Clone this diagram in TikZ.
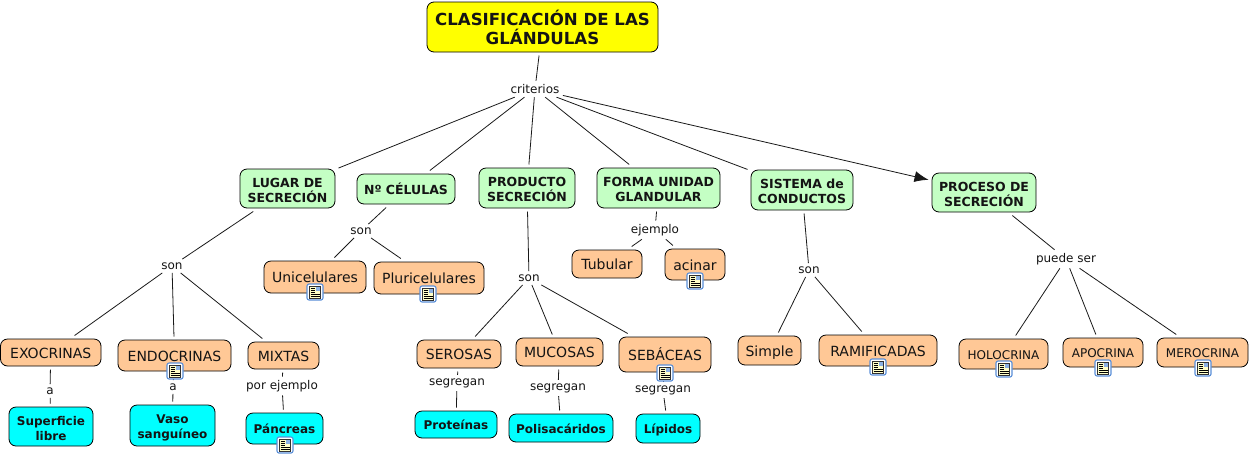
\documentclass[tikz,border=0pt]{standalone}
\usepackage{fontspec}
\setmainfont{DejaVu Sans}
\usetikzlibrary{arrows.meta}
\definecolor{orangebox}{HTML}{FFC896}
\definecolor{greenbox}{HTML}{C4FFC4}
\definecolor{cyanbox}{HTML}{00FFFF}
\definecolor{yellowbox}{HTML}{FFFF00}
\definecolor{iconblue}{HTML}{5A8FD8}
\definecolor{iconpaper}{HTML}{FFFFC8}
\newcommand{\ml}{\rule{0pt}{1.15em}}
\tikzset{
  cbox/.style={draw=black,line width=0.8pt,rounded corners=7pt,inner sep=0pt,outer sep=3.5pt,align=center,text=black!92,
    execute at begin node={\rule{0pt}{1em}},execute at end node={\rule[-0.15em]{0pt}{0pt}}},
  titlebox/.style={cbox,fill=yellowbox,font=\fontsize{16.6}{19}\selectfont\bfseries},
  greenb/.style={cbox,fill=greenbox,font=\fontsize{12.5}{15}\selectfont\bfseries},
  orangeb/.style={cbox,fill=orangebox,font=\fontsize{14}{17}\selectfont},
  orangesm/.style={cbox,fill=orangebox,font=\fontsize{12}{15}\selectfont},
  cyanb/.style={cbox,fill=cyanbox,font=\fontsize{12}{15}\selectfont\bfseries},
  lab/.style={font=\fontsize{12}{14}\selectfont,text=black!92,inner sep=1.5pt,outer sep=2pt,yshift=-1pt},
  conn/.style={line width=0.8pt,draw=black!90},
  iconframe/.style={draw=iconblue,fill=white,line width=1.1pt,rounded corners=2pt,minimum size=16pt,inner sep=0pt,outer sep=0pt},
}
\newcommand{\bx}[7]{%
  \pgfmathsetmacro{\bxw}{#5-#3}\pgfmathsetmacro{\bxh}{#6-#4}%
  \pgfmathsetmacro{\bxx}{(#3+#5)/2}\pgfmathsetmacro{\bxy}{(#4+#6)/2}%
  \node[#2,minimum width=\bxw pt,minimum height=\bxh pt] (#1) at (\bxx,\bxy) {#7};}
\newcommand{\icn}[3]{%
  \node[iconframe] (#1) at (#2,#3) {};
  \fill[iconpaper,draw=black!80,line width=0.5pt] (#2-5.5,#3-6) rectangle (#2+5.5,#3+6);
  \fill[iconblue!70] (#2+0.5,#3-5) rectangle (#2+4.5,#3-1);
  \foreach \k in {-3.5,-1.5,0.5}{\draw[black,line width=0.6pt] (#2-4.5,#3+\k) -- (#2,#3+\k);}
  \foreach \k in {2.5,4.2}{\draw[black,line width=0.6pt] (#2-4.5,#3+\k) -- (#2+4.5,#3+\k);}
}
\begin{document}
\begin{tikzpicture}[x=1pt,y=-1pt]
\useasboundingbox (0,0) rectangle (1250,456);
\bx{title}{titlebox}{427}{2}{658}{52}{\ml CLASIFICACIÓN DE LAS\\GLÁNDULAS}
\node[lab] (crit) at (535,88) {criterios};
\bx{lugar}{greenb}{240}{169}{335}{208}{\ml LUGAR DE\\SECRECIÓN}
\bx{ncel}{greenb}{357}{174}{455}{204}{Nº CÉLULAS}
\bx{prod}{greenb}{479}{168}{575}{208}{\ml PRODUCTO\\SECRECIÓN}
\bx{forma}{greenb}{597}{168}{720}{208}{\ml FORMA UNIDAD\\GLANDULAR}
\bx{sist}{greenb}{751}{170}{853}{210}{\ml SISTEMA de\\CONDUCTOS}
\bx{proc}{greenb}{932}{173}{1036}{212}{\ml PROCESO DE\\SECRECIÓN}
\bx{uni}{orangeb}{264}{261}{366}{293}{Unicelulares}
\bx{pluri}{orangeb}{374}{262}{484}{294}{Pluricelulares}
\bx{exo}{orangeb}{0.5}{339}{101}{366}{EXOCRINAS}
\bx{endo}{orangeb}{118}{340}{231}{371}{ENDOCRINAS}
\bx{mix}{orangeb}{248}{342}{319}{369}{MIXTAS}
\bx{sup}{cyanb}{9}{407}{93}{446}{\ml Superficie\\libre}
\bx{vaso}{cyanb}{130}{405}{215}{446}{\ml Vaso\\sanguíneo}
\bx{pan}{cyanb}{246}{413}{323}{444}{Páncreas}
\bx{ser}{orangeb}{417}{340}{501}{368}{SEROSAS}
\bx{muc}{orangeb}{516}{338}{603}{366}{MUCOSAS}
\bx{seb}{orangeb}{619}{337}{711}{372}{SEBÁCEAS}
\bx{tub}{orangeb}{572}{250}{642}{278}{Tubular}
\bx{aci}{orangeb}{665}{249}{725}{280}{acinar}
\bx{sim}{orangeb}{738}{336}{801}{365}{Simple}
\bx{ram}{orangeb}{819}{335}{937}{366}{RAMIFICADAS}
\bx{hol}{orangesm}{959}{339}{1048}{369}{HOLOCRINA}
\bx{apo}{orangesm}{1063}{338}{1143}{367}{APOCRINA}
\bx{mer}{orangesm}{1157}{338}{1248}{367}{MEROCRINA}
\bx{prot}{cyanb}{415}{411}{497}{438}{Proteínas}
\bx{pol}{cyanb}{509}{414}{613}{442}{Polisacáridos}
\bx{lip}{cyanb}{636}{414}{700}{443}{Lípidos}
\node[lab] (l1) at (172,265) {son};
\node[lab] (l2) at (50,390) {a};
\node[lab] (l3) at (173,386) {a};
\node[lab] (l4) at (282,385) {por ejemplo};
\node[lab] (l5) at (361,230) {son};
\node[lab] (l6) at (529,277) {son};
\node[lab] (l7) at (457,382) {segregan};
\node[lab] (l8) at (558,387) {segregan};
\node[lab] (l9) at (663,389) {segregan};
\node[lab] (l10) at (655,229) {ejemplo};
\node[lab] (l11) at (809,269) {son};
\node[lab] (l12) at (1066,258) {puede ser};
\draw[conn] (title) -- (crit);
\foreach \t in {lugar,ncel,prod,forma,sist}{\draw[conn] (crit) -- (\t);}
\draw[conn,-{Latex[length=14pt,width=11pt]}] (crit) -- (proc);
\draw[conn] (lugar) -- (l1);
\foreach \t in {exo,endo,mix}{\draw[conn] (l1) -- (\t);}
\draw[conn] (exo) -- (l2); \draw[conn] (l2) -- (sup);
\draw[conn] (endo) -- (l3); \draw[conn] (l3) -- (vaso);
\draw[conn] (mix) -- (l4); \draw[conn] (l4) -- (pan);
\draw[conn] (ncel) -- (l5);
\foreach \t in {uni,pluri}{\draw[conn] (l5) -- (\t);}
\draw[conn] (prod) -- (l6);
\foreach \t in {ser,muc,seb}{\draw[conn] (l6) -- (\t);}
\draw[conn] (ser) -- (l7); \draw[conn] (l7) -- (prot);
\draw[conn] (muc) -- (l8); \draw[conn] (l8) -- (pol);
\draw[conn] (seb) -- (l9); \draw[conn] (l9) -- (lip);
\draw[conn] (forma) -- (l10);
\foreach \t in {tub,aci}{\draw[conn] (l10) -- (\t);}
\draw[conn] (sist) -- (l11);
\foreach \t in {sim,ram}{\draw[conn] (l11) -- (\t);}
\draw[conn] (proc) -- (l12);
\foreach \t in {hol,apo,mer}{\draw[conn] (l12) -- (\t);}
\icn{i1}{315}{292}
\icn{i2}{428}{294}
\icn{i3}{175}{371}
\icn{i4}{285}{445}
\icn{i5}{665}{373}
\icn{i6}{695}{281}
\icn{i7}{878}{367}
\icn{i8}{1004}{369}
\icn{i9}{1103}{368}
\icn{i10}{1203}{368}
\end{tikzpicture}
\end{document}
